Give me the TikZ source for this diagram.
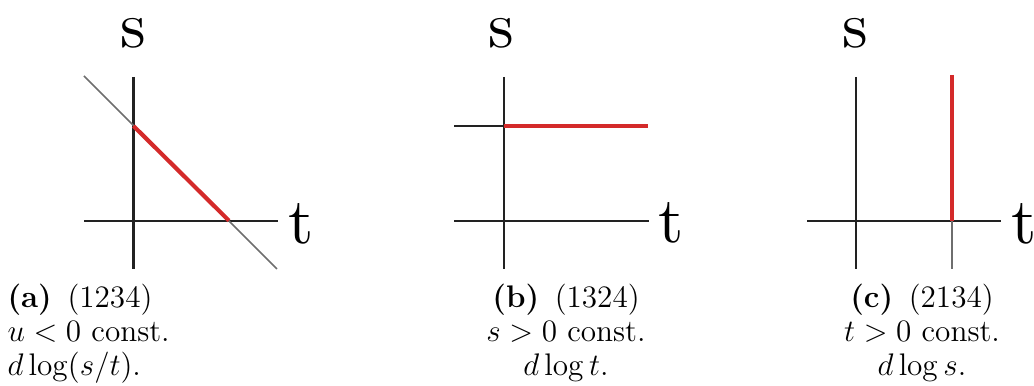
\documentclass[tikz,border=0pt]{standalone}
\usepackage{amsmath}
\usetikzlibrary{positioning}

\font\axisfont=cmr10 at 25pt
\definecolor{axisgray}{HTML}{222222}
\definecolor{linegray}{HTML}{6E6E6E}
\definecolor{constred}{HTML}{D42A2A}

\begin{document}
\begin{tikzpicture}[x=0.01352cm, y=-0.01352cm,
	axis/.style={line width=0.8pt, axisgray},
	guide/.style={line width=0.65pt, linegray},
	constline/.style={line width=1.6pt, constred},
	axlabel/.style={inner sep=0pt, font=\axisfont},
	caption/.style={inner sep=0pt, font=\fontsize{12}{14}\selectfont}]

	\useasboundingbox (0,0) rectangle (1034,386);

	% (a) u constante: recta de pendiente -1
	\draw[axis] (84,220.7) -- (278,220.7);
	\draw[axis] (133.5,77) -- (133.5,269);
	\draw[guide] (84,76) -- (277,269);
	\draw[constline] (133.5,126) -- (229,220.7);
	\node[axlabel] (sa) at (133.5,33.5) {s};
	\node[axlabel] (ta) at (301.5,224) {t};

	% (b) s constante
	\draw[axis] (454,220.7) -- (649,220.7);
	\draw[axis] (504,77) -- (504,269);
	\draw[axis] (454,125.7) -- (504,125.7);
	\draw[constline] (504,125.7) -- (648,125.7);
	\node[axlabel] (sb) at (501.5,33.5) {s};
	\node[axlabel] (tb) at (671,223) {t};

	% (c) t constante
	\draw[axis] (807,220.7) -- (1001,220.7);
	\draw[axis] (856,77) -- (856,269);
	\draw[guide] (952,220.7) -- (952,269);
	\draw[constline] (952,75) -- (952,220.7);
	\node[axlabel] (sc) at (855,33.5) {s};
	\node[axlabel] (tc) at (1024,224) {t};

	% subtitulos
	\node[caption, anchor=base west] (capa1) at (7,308) {\textbf{(a)}\enspace(1234)};
	\node[caption, anchor=base west] (capa2) at (7,342) {$u<0$ const.};
	\node[caption, anchor=base west] (capa3) at (7,376) {$d\log(s/t)$.};

	\node[caption, anchor=base] (capb1) at (566,308) {\textbf{(b)}\enspace(1324)};
	\node[caption, anchor=base] (capb2) at (566,342) {$s>0$ const.};
	\node[caption, anchor=base] (capb3) at (566,376) {$d\log t$.};

	\node[caption, anchor=base] (capc1) at (922,308) {\textbf{(c)}\enspace(2134)};
	\node[caption, anchor=base] (capc2) at (922,342) {$t>0$ const.};
	\node[caption, anchor=base] (capc3) at (922,376) {$d\log s$.};
\end{tikzpicture}
\end{document}
